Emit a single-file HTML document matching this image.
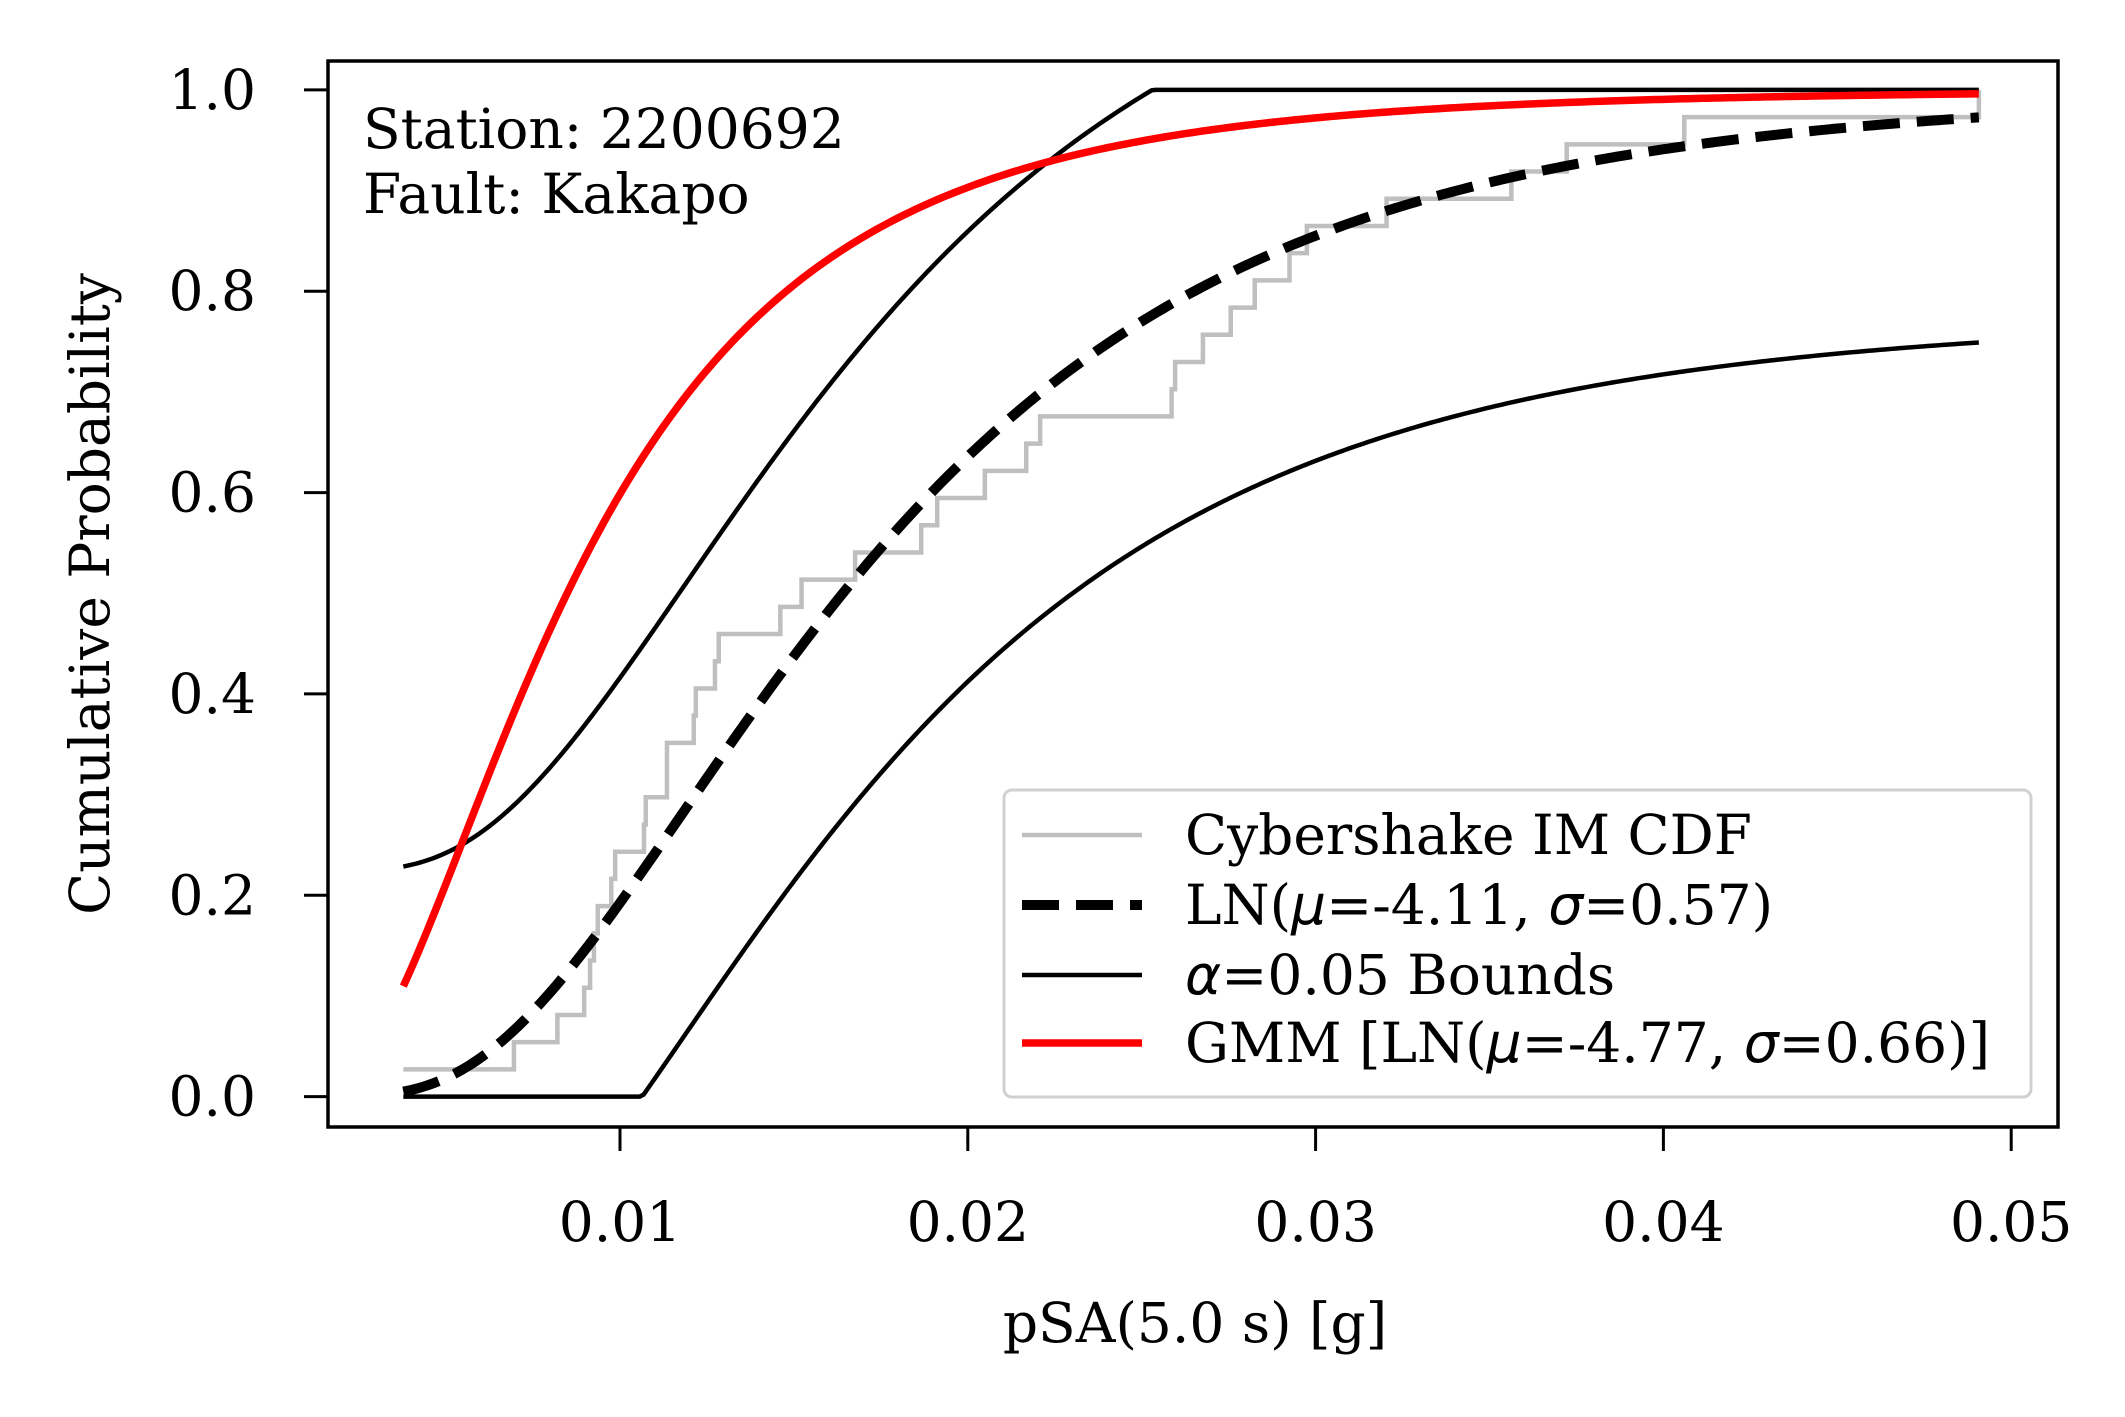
<!DOCTYPE html>
<html><head><meta charset="utf-8"><style>
html,body{margin:0;padding:0;background:#fff;}
svg{display:block;}
text{font-family:"DejaVu Serif","Liberation Serif",serif;fill:#000;}
</style></head><body>
<svg id="chart" width="2125" height="1417" viewBox="0 0 2125 1417" xmlns="http://www.w3.org/2000/svg">
<rect x="0" y="0" width="2125" height="1417" fill="#fff"/>
<g id="plot"></g>
<rect x="328" y="61" width="1730" height="1066" fill="none" stroke="#000" stroke-width="3.5"/>
<g id="ticks"></g>
<text x="363" y="148" font-size="55">Station: 2200692</text>
<text x="363" y="213" font-size="55">Fault: Kakapo</text>
<text x="1195" y="1342" font-size="55" text-anchor="middle">pSA(5.0 s) [g]</text>
<text transform="translate(109,594) rotate(-90)" font-size="55" text-anchor="middle">Cumulative Probability</text>
<g>
<rect x="1004" y="790" width="1027" height="307" rx="8" fill="#fff" fill-opacity="0.8" stroke="#d0d0d0" stroke-width="3"/>
<line x1="1022" y1="835" x2="1142" y2="835" stroke="#bfbfbf" stroke-width="4.5"/>
<text x="1185" y="854" font-size="55">Cybershake IM CDF</text>
<line x1="1022" y1="905" x2="1142" y2="905" stroke="#000" stroke-width="10" stroke-dasharray="37,17"/>
<text x="1185" y="924" font-size="55">LN(<tspan font-family="DejaVu Sans" font-style="italic">μ</tspan>=-4.11, <tspan font-family="DejaVu Sans" font-style="italic">σ</tspan>=0.57)</text>
<line x1="1022" y1="975" x2="1142" y2="975" stroke="#000" stroke-width="4.5"/>
<text x="1185" y="994" font-size="55"><tspan font-family="DejaVu Sans" font-style="italic">α</tspan>=0.05 Bounds</text>
<line x1="1022" y1="1043" x2="1142" y2="1043" stroke="#ff0000" stroke-width="7.5"/>
<text x="1185" y="1062" font-size="55">GMM [LN(<tspan font-family="DejaVu Sans" font-style="italic">μ</tspan>=-4.77, <tspan font-family="DejaVu Sans" font-style="italic">σ</tspan>=0.66)]</text>
</g>
</svg>
<script>
const samples = [0.00377,0.00695,0.00820,0.00897,0.00914,0.00925,0.00936,0.00975,0.00986,0.01069,0.01074,0.01135,0.01135,0.01212,0.01218,0.01273,0.01284,0.01461,0.01522,0.01676,0.01866,0.01912,0.02049,0.02168,0.02208,0.02586,0.02596,0.02676,0.02756,0.02825,0.02925,0.02975,0.03204,0.03563,0.03722,0.04060,0.04907];
const lnParams = [-4.11, 0.57];
const gmmParams = [-4.77, 0.66];
const alphaD = [0.2236];
const xTicks = [0.01,0.02,0.03,0.04,0.05];
const xTickLabels = ["0.01","0.02","0.03","0.04","0.05"];
const yTicks = [0,0.2,0.4,0.6,0.8,1.0];
const yTickLabels = ["0.0","0.2","0.4","0.6","0.8","1.0"];

const NS='http://www.w3.org/2000/svg';
function X(v){return 620+(v-0.01)*34780;}
function Y(p){return 1096.6-p*1006.7;}
function erf(x){const s=x<0?-1:1;x=Math.abs(x);const t=1/(1+0.3275911*x);
 const y=1-(((((1.061405429*t-1.453152027)*t)+1.421413741)*t-0.284496736)*t+0.254829592)*t*Math.exp(-x*x);return s*y;}
function lncdf(x,m,s){return 0.5*(1+erf((Math.log(x)-m)/(s*Math.SQRT2)));}
const plot=document.getElementById('plot');
function path(d,attrs){const p=document.createElementNS(NS,'path');p.setAttribute('d',d);p.setAttribute('fill','none');
 for(const k in attrs)p.setAttribute(k,attrs[k]);plot.appendChild(p);return p;}
const xmin=samples[0], xmax=samples[samples.length-1];
function curve(f){let d='';const N=400;for(let i=0;i<=N;i++){const x=xmin+(xmax-xmin)*i/N;d+=(i?'L':'M')+X(x).toFixed(2)+','+Y(f(x)).toFixed(2);}return d;}
const n=samples.length;let d='M'+X(samples[0])+','+Y(1/n);
for(let i=1;i<n;i++){d+='L'+X(samples[i])+','+Y(i/n)+'L'+X(samples[i])+','+Y((i+1)/n);}
let e=path(d,{stroke:'#bfbfbf','stroke-width':4.5});


let l=path(curve(x=>Math.max(0,lncdf(x,lnParams[0],lnParams[1])-alphaD[0])),{stroke:'#000','stroke-width':4.5});


let u=path(curve(x=>Math.min(1,lncdf(x,lnParams[0],lnParams[1])+alphaD[0])),{stroke:'#000','stroke-width':4.5});


let ln=path(curve(x=>lncdf(x,lnParams[0],lnParams[1])),{stroke:'#000','stroke-width':10,'stroke-dasharray':'37,17'});


let g=path(curve(x=>lncdf(x,gmmParams[0],gmmParams[1])),{stroke:'#ff0000','stroke-width':7.5});


const tk=document.getElementById('ticks');
xTicks.forEach((v,i)=>{const t=document.createElementNS(NS,'line');t.setAttribute('x1',X(v));t.setAttribute('x2',X(v));t.setAttribute('y1',1127);t.setAttribute('y2',1151);t.setAttribute('stroke','#000');t.setAttribute('stroke-width',3);
 
 
 tk.appendChild(t);
 const s=document.createElementNS(NS,'text');s.setAttribute('x',X(v));s.setAttribute('y',1241);s.setAttribute('font-size','55');s.setAttribute('text-anchor','middle');s.textContent=xTickLabels[i];
 
 
 tk.appendChild(s);});
yTicks.forEach((v,i)=>{const t=document.createElementNS(NS,'line');t.setAttribute('x1',304);t.setAttribute('x2',328);t.setAttribute('y1',Y(v));t.setAttribute('y2',Y(v));t.setAttribute('stroke','#000');t.setAttribute('stroke-width',3);
 
 
 tk.appendChild(t);
 const s=document.createElementNS(NS,'text');s.setAttribute('x',256);s.setAttribute('y',Y(v)+19);s.setAttribute('font-size','55');s.setAttribute('text-anchor','end');s.textContent=yTickLabels[i];
 
 
 tk.appendChild(s);});
</script>
</body></html>
